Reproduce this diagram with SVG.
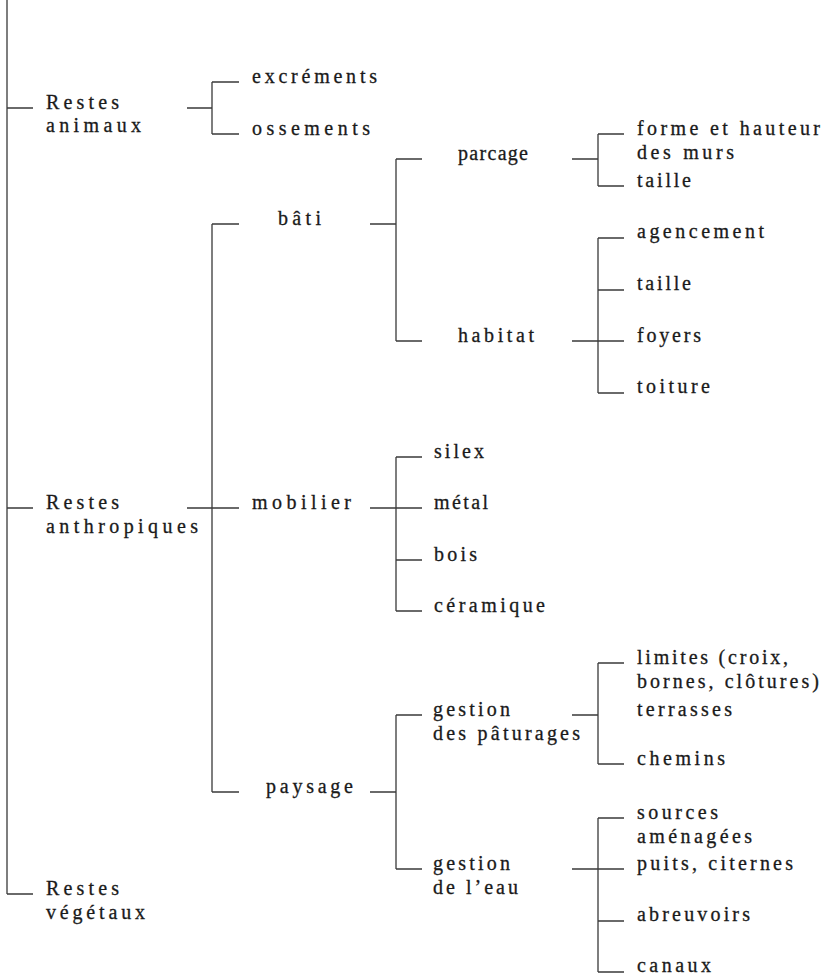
<svg xmlns="http://www.w3.org/2000/svg" width="826" height="974" viewBox="0 0 826 974">
<style>
.c{fill:none;stroke:#3a3a3a;stroke-width:1.3}
text{font-family:"Liberation Serif","Times New Roman",serif;font-size:20px;fill:#1a1a1a;stroke:#1a1a1a;stroke-width:0.3}
</style>
<rect width="826" height="974" fill="#fff"/>
<g id="connectors" class="c">
<path d="M7,0V894M7,108H33M7,508H33M7,894H33"/>
<path d="M187,108H212M212,82V134M212,82H239M212,134H239"/>
<path d="M187,508H239M212,224V792M212,224H239M212,792H239"/>
<path d="M370,224H396M396,159V341M396,159H422M396,341H422"/>
<path d="M572,159H598M598,134V186M598,134H624M598,186H624"/>
<path d="M572,341H624M598,238V393M598,238H624M598,290H624M598,393H624"/>
<path d="M370,508H422M396,457V611M396,457H422M396,560H422M396,611H422"/>
<path d="M370,792H396M396,715V869M396,715H422M396,869H422"/>
<path d="M572,715H598M598,663V764M598,663H624M598,764H624"/>
<path d="M572,869H624M598,818V972M598,818H624M598,921H624M598,972H624"/>
</g>
<g id="restes-animaux"><text x="46" y="109" textLength="73" lengthAdjust="spacing">Restes</text><text x="46" y="132" textLength="95" lengthAdjust="spacing">animaux</text></g>
<g id="restes-anthropiques"><text x="46" y="509" textLength="73" lengthAdjust="spacing">Restes</text><text x="46" y="533" textLength="152" lengthAdjust="spacing">anthropiques</text></g>
<g id="restes-vegetaux"><text x="46" y="895" textLength="73" lengthAdjust="spacing">Restes</text><text x="46" y="919" textLength="99" lengthAdjust="spacing">végétaux</text></g>
<g id="excrements"><text x="252" y="83" textLength="125" lengthAdjust="spacing">excréments</text></g>
<g id="ossements"><text x="252" y="135" textLength="118" lengthAdjust="spacing">ossements</text></g>
<g id="bati"><text x="278" y="225" textLength="43" lengthAdjust="spacing">bâti</text></g>
<g id="mobilier"><text x="252" y="509" textLength="99" lengthAdjust="spacing">mobilier</text></g>
<g id="paysage"><text x="266" y="793" textLength="87" lengthAdjust="spacing">paysage</text></g>
<g id="parcage"><text x="458" y="160" textLength="70" lengthAdjust="spacing">parcage</text></g>
<g id="habitat"><text x="458" y="342" textLength="76" lengthAdjust="spacing">habitat</text></g>
<g id="forme-hauteur"><text x="637" y="135" textLength="183" lengthAdjust="spacing">forme et hauteur</text><text x="637" y="159" textLength="97" lengthAdjust="spacing">des murs</text></g>
<g id="taille-parcage"><text x="637" y="187" textLength="54" lengthAdjust="spacing">taille</text></g>
<g id="agencement"><text x="637" y="238" textLength="127" lengthAdjust="spacing">agencement</text></g>
<g id="taille-habitat"><text x="637" y="290" textLength="54" lengthAdjust="spacing">taille</text></g>
<g id="foyers"><text x="637" y="342" textLength="64" lengthAdjust="spacing">foyers</text></g>
<g id="toiture"><text x="637" y="393" textLength="73" lengthAdjust="spacing">toiture</text></g>
<g id="silex"><text x="434" y="458" textLength="50" lengthAdjust="spacing">silex</text></g>
<g id="metal"><text x="434" y="509" textLength="54" lengthAdjust="spacing">métal</text></g>
<g id="bois"><text x="434" y="561" textLength="43" lengthAdjust="spacing">bois</text></g>
<g id="ceramique"><text x="434" y="612" textLength="111" lengthAdjust="spacing">céramique</text></g>
<g id="gestion-paturages"><text x="433" y="716" textLength="77" lengthAdjust="spacing">gestion</text><text x="433" y="740" textLength="147" lengthAdjust="spacing">des pâturages</text></g>
<g id="limites"><text x="637" y="664" textLength="151" lengthAdjust="spacing">limites (croix,</text><text x="637" y="688" textLength="182" lengthAdjust="spacing">bornes, clôtures)</text></g>
<g id="terrasses"><text x="637" y="716" textLength="95" lengthAdjust="spacing">terrasses</text></g>
<g id="chemins"><text x="637" y="765" textLength="88" lengthAdjust="spacing">chemins</text></g>
<g id="gestion-eau"><text x="433" y="870" textLength="77" lengthAdjust="spacing">gestion</text><text x="433" y="894" textLength="85" lengthAdjust="spacing">de l’eau</text></g>
<g id="sources"><text x="637" y="819" textLength="81" lengthAdjust="spacing">sources</text><text x="637" y="843" textLength="115" lengthAdjust="spacing">aménagées</text></g>
<g id="puits"><text x="637" y="870" textLength="156" lengthAdjust="spacing">puits, citernes</text></g>
<g id="abreuvoirs"><text x="637" y="921" textLength="113" lengthAdjust="spacing">abreuvoirs</text></g>
<g id="canaux"><text x="637" y="972" textLength="74" lengthAdjust="spacing">canaux</text></g>
</svg>
